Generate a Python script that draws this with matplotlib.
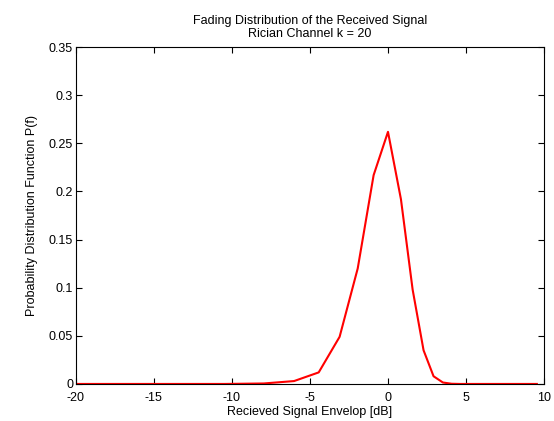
import matplotlib.pyplot as plt

plt.rcParams['font.family'] = ['Liberation Sans', 'DejaVu Sans']

# received envelope in dB
envelope_db = [-20.0, -13.98, -10.46, -7.96, -6.02, -4.44, -3.10, -1.94, -0.92, 0.0,
               0.83, 1.58, 2.28, 2.92, 3.52, 4.08, 4.61, 5.11, 5.58, 6.02,
               6.44, 6.85, 7.23, 7.60, 7.96, 8.30, 8.63, 8.94, 9.25, 9.54]
pdf_values = [0.0, 0.0, 0.0, 0.0005, 0.003, 0.012, 0.049, 0.120, 0.217, 0.262,
              0.192, 0.098, 0.035, 0.008, 0.0015, 0.0002, 0.0, 0.0, 0.0, 0.0,
              0.0, 0.0, 0.0, 0.0, 0.0, 0.0, 0.0, 0.0, 0.0, 0.0]

x_ticks = [-20, -15, -10, -5, 0, 5, 10]
y_ticks = [0, 0.05, 0.1, 0.15, 0.2, 0.25, 0.3, 0.35]
y_tick_labels = ['0', '0.05', '0.1', '0.15', '0.2', '0.25', '0.3', '0.35']

fig = plt.figure(figsize=(5.54, 4.21), dpi=100)
ax = fig.add_axes([0.137, 0.088, 0.845, 0.8])

ax.plot(envelope_db, pdf_values, color='red', linewidth=1.5)
ax.set_xlim(-20, 10)
ax.set_ylim(0, 0.35)
ax.set_xticks(x_ticks)
ax.set_xticklabels([str(t) for t in x_ticks])
ax.set_yticks(y_ticks)
ax.set_yticklabels(y_tick_labels)
ax.tick_params(direction='in', length=4, width=0.8, labelsize=9, top=True, right=True,
               labeltop=False, labelright=False)
ax.tick_params(axis='x', pad=5.5)
ax.tick_params(axis='y', pad=2)
for side in ax.spines.values():
    side.set_linewidth(0.8)

ax.set_title('Fading Distribution of the Received Signal\nRician Channel k = 20', fontsize=9, pad=7)
ax.set_xlabel('Recieved Signal Envelop [dB]', fontsize=9, labelpad=2)
ax.set_ylabel('Probability Distribution Function P(f)', fontsize=9, labelpad=8)

fig.savefig('out.png', dpi=100)
